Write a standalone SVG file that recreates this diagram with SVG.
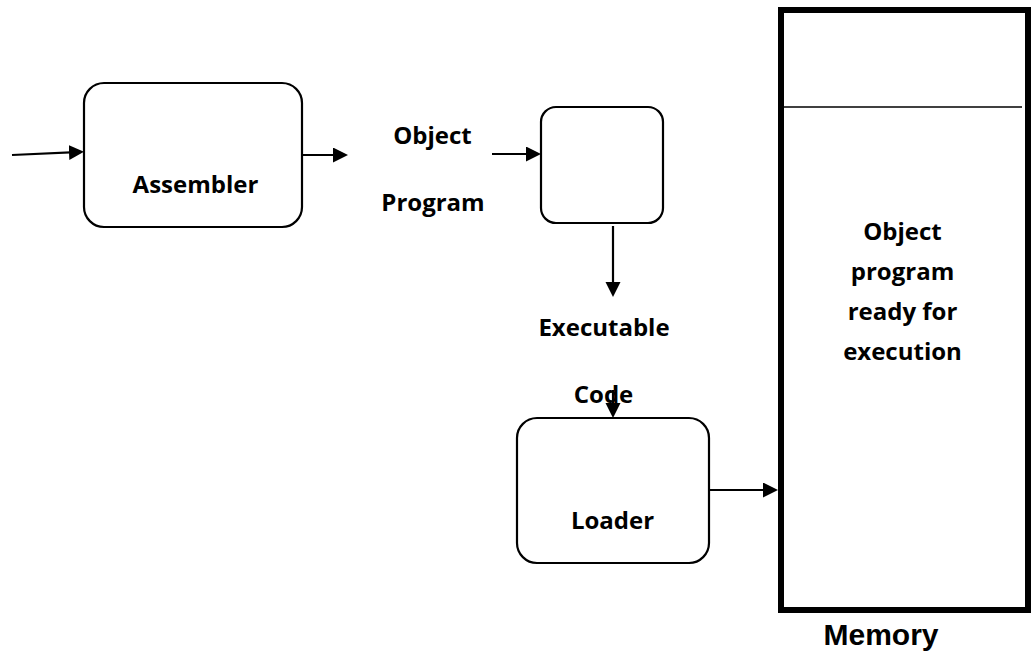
<svg xmlns="http://www.w3.org/2000/svg" width="1031" height="653" viewBox="0 0 1031 653">
  <style>
    .box { fill: #ffffff; stroke: #000000; stroke-width: 2.2; }
    .lbl { font-family: "Open Sans", "Liberation Sans", sans-serif; font-weight: bold; font-size: 24px; fill: #000000; text-anchor: middle; }
    .mem { font-family: "Liberation Sans", Arial, sans-serif; font-weight: bold; font-size: 30px; fill: #000000; text-anchor: middle; }
    .conn { stroke: #000000; stroke-width: 2.2; fill: none; marker-end: url(#arrow); }
  </style>
  <defs>
    <marker id="arrow" markerUnits="userSpaceOnUse" markerWidth="16" markerHeight="16" refX="7" refY="7.5" orient="auto">
      <path d="M0,0 L15,7.5 L0,15 Z" fill="#000000"/>
    </marker>
  </defs>
  <rect width="1031" height="653" fill="#ffffff"/>

  <g id="assembler">
    <rect class="box" x="84" y="83" width="218" height="144" rx="20" ry="20"/>
    <text class="lbl" x="195.5" y="193">Assembler</text>
  </g>

  <g id="object-program-label">
    <text class="lbl" x="432.5" y="144">Object</text>
    <text class="lbl" x="433" y="211">Program</text>
  </g>

  <g id="linker">
    <rect class="box" x="541" y="107" width="122" height="116" rx="15" ry="15"/>
  </g>

  <g id="executable-code-label">
    <text class="lbl" x="604" y="336">Executable</text>
    <text class="lbl" x="603.5" y="403">Code</text>
  </g>

  <g id="loader">
    <rect class="box" x="517" y="418" width="192" height="145" rx="20" ry="20"/>
    <text class="lbl" x="612.5" y="529">Loader</text>
  </g>

  <g id="memory">
    <rect x="781" y="10" width="247" height="600" fill="#ffffff" stroke="#000000" stroke-width="6"/>
    <line x1="784" y1="107" x2="1022" y2="107" stroke="#000000" stroke-width="1.6"/>
    <text class="lbl" x="902.5" y="240">Object</text>
    <text class="lbl" x="902.5" y="280">program</text>
    <text class="lbl" x="902.5" y="320">ready for</text>
    <text class="lbl" x="902.5" y="360">execution</text>
    <text class="mem" x="881" y="645">Memory</text>
  </g>

  <g id="connectors">
    <line class="conn" x1="12" y1="155" x2="76" y2="152.2"/>
    <line class="conn" x1="302" y1="155" x2="340" y2="155"/>
    <line class="conn" x1="492" y1="154" x2="533" y2="154"/>
    <line class="conn" x1="613" y1="226" x2="613" y2="289"/>
    <line class="conn" x1="613" y1="390" x2="613" y2="410"/>
    <line class="conn" x1="709" y1="490" x2="770" y2="490"/>
  </g>
</svg>
